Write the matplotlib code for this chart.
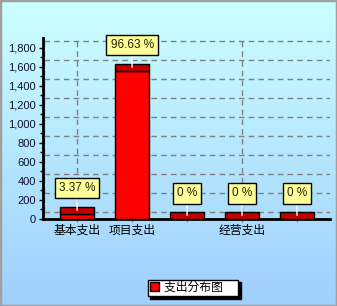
import matplotlib
matplotlib.use("Agg")
import matplotlib.pyplot as plt
import numpy as np
from matplotlib.patches import Patch, Rectangle
from matplotlib.colors import LinearSegmentedColormap

plt.rcParams['font.family'] = ['Liberation Sans', 'Noto Sans CJK SC', 'DejaVu Sans']

# 데이터
categories = ['基本支出', '项目支出', '', '经营支出', '']
values = [54.4, 1560, 0, 0, 0]
yticks = [0, 200, 400, 600, 800, 1000, 1200, 1400, 1600, 1800]
legend_name = '支出分布图'

depth = 75  # 3D 깊이 (y 단위)

fig = plt.figure(figsize=(3.37, 3.06), dpi=100)

# 배경 그라데이션
bg = fig.add_axes([0, 0, 1, 1], zorder=-10)
cmap = LinearSegmentedColormap.from_list('bg', ['#ccffff', '#9fcffd'])
bg.imshow(np.linspace(0, 1, 256).reshape(-1, 1), aspect='auto', cmap=cmap,
          extent=[0, 1, 0, 1])
bg.set_axis_off()
fig.patches.append(Rectangle((0, 0), 1, 1, transform=fig.transFigure,
                             fill=False, edgecolor='#a0a0a0', lw=2.5))

ax = fig.add_axes([43/337, 1 - 219/306, 287/337, 181/306])
ax.set_facecolor('none')
x = np.arange(len(values))
ax.set_xlim(-0.62, 4.6)
ax.set_ylim(0, 1905)

# 뒷벽 격자 (깊이만큼 위로 이동)
for t in yticks:
    ax.plot([-0.6, 4.6], [t + depth, t + depth], color='#808080', lw=1,
            ls=(0, (4, 3)), zorder=1)
for gx in [-0.6, 0, 3]:
    ax.plot([gx, gx], [depth, 1905], color='#808080', lw=1,
            ls=(0, (4, 3)), zorder=1)

# 막대
w = 0.62
ax.bar(x, values, width=w, color='#ff0000', edgecolor='black', lw=1, zorder=3)
ax.bar(x, [depth] * len(values), bottom=values, width=w, color='#c00000',
       edgecolor='black', lw=1, zorder=3)

total = sum(values)
for xi, v in zip(x, values):
    pct = v / total * 100
    txt = '0 %' if pct == 0 else '%.2f %%' % pct
    ax.annotate(txt, xy=(xi, v + depth / 2), xytext=(0, 22),
                textcoords='offset pixels', ha='center', va='center',
                fontsize=8.5, color='#222200', zorder=5,
                bbox=dict(boxstyle='square,pad=0.35', fc='#ffff99', ec='black', lw=1),
                arrowprops=dict(arrowstyle='-', color='white', lw=1,
                                shrinkA=0, shrinkB=0))

ax.set_yticks(yticks)
ax.set_yticklabels(['{:,}'.format(t) for t in yticks], fontsize=8, color='#101030')
ax.set_yticks(np.arange(100, 1900, 200), minor=True)
ax.set_xticks(x)
ax.set_xticklabels(categories, fontsize=8.5)
ax.tick_params(axis='y', length=3, width=1, pad=2)
ax.tick_params(axis='y', which='minor', length=2, width=1)
ax.tick_params(axis='x', length=2, color='#808080', pad=2)

for s in ['top', 'right']:
    ax.spines[s].set_visible(False)
ax.spines['left'].set_linewidth(2)
ax.spines['bottom'].set_linewidth(2)

leg = fig.legend(handles=[Patch(facecolor='#ff0000', edgecolor='black',
                                label=legend_name + '    ')],
                 loc='center', bbox_to_anchor=(193/337, 1 - 288/306),
                 fontsize=8.5, frameon=True, fancybox=False, framealpha=1,
                 edgecolor='black', handlelength=0.8, handleheight=0.8,
                 handletextpad=0.4, borderpad=0.2,
                 shadow={'color': 'black', 'alpha': 1})
leg.get_frame().set_linewidth(1)

fig.savefig('out.png', dpi=100)
